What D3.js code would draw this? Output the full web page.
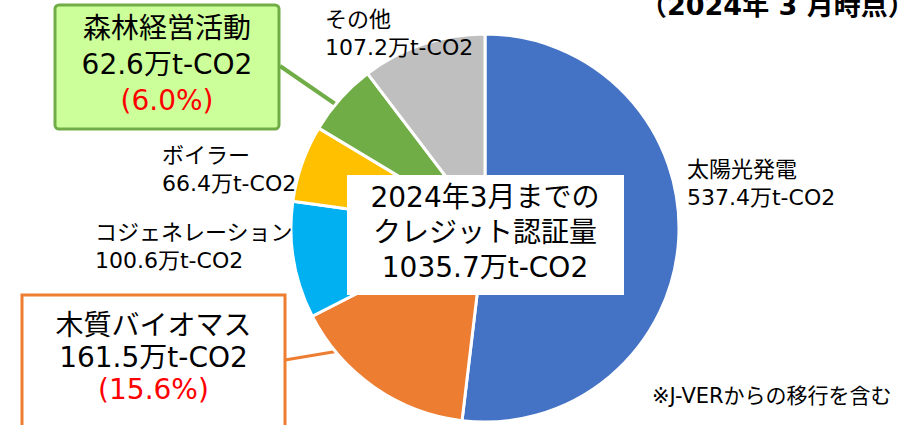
<!DOCTYPE html>
<html lang="ja">
<head>
  <meta charset="UTF-8">
  <title>クレジット認証量</title>
  <script src="https://cdn.jsdelivr.net/npm/d3@7.8.5/dist/d3.min.js"></script>
  <style>
    body { margin: 0; background: #fff; }
    svg { display: block; font-family: "DejaVu Sans", "Noto Sans CJK JP", sans-serif; }
  </style>
</head>
<body>
  <div id="chart"></div>
  <script>
    const width = 914
    const height = 425

    // 2024年3月までのクレジット認証量（万t-CO2）
    const categories = ['太陽光発電', '木質バイオマス', 'コジェネレーション', 'ボイラー', '森林経営活動', 'その他']
    const values = [537.4, 161.5, 100.6, 66.4, 62.6, 107.2]
    const colors = ['#4472C4', '#ED7D31', '#00B0F0', '#FFC000', '#70AD47', '#BFBFBF']
    const total = 1035.7

    const cx = 485, cy = 228, radius = 194

    const svg = d3.select('#chart').append('svg')
      .attr('width', width)
      .attr('height', height)

    const pie = d3.pie().sort(null).value(d => d.value)
    const arcs = pie(categories.map((c, i) => ({ name: c, value: values[i], color: colors[i] })))
    const arc = d3.arc().innerRadius(0).outerRadius(radius)
    const inner = d3.arc().innerRadius(radius * 0.7).outerRadius(radius * 0.7)

    const g = svg.append('g').attr('transform', `translate(${cx},${cy})`)

    // 引き出し線（パイの下に描く）
    const leaders = [
      { idx: 4, x: 280 - cx, y: 66 - cy, color: '#70AD47', w: 4 },
      { idx: 1, x: 285 - cx, y: 360 - cy, color: '#ED7D31', w: 3 }
    ]
    g.selectAll('line.leader').data(leaders)
      .enter().append('line')
      .attr('class', 'leader')
      .attr('x1', d => d.x)
      .attr('y1', d => d.y)
      .attr('x2', d => inner.centroid(arcs[d.idx])[0])
      .attr('y2', d => inner.centroid(arcs[d.idx])[1])
      .attr('stroke', d => d.color)
      .attr('stroke-width', d => d.w)

    g.selectAll('path').data(arcs)
      .enter().append('path')
      .attr('d', arc)
      .attr('fill', d => d.data.color)
      .attr('stroke', '#fff')
      .attr('stroke-width', 3)

    // 中央のボックス
    svg.append('rect')
      .attr('x', 347).attr('y', 175)
      .attr('width', 277).attr('height', 120)
      .attr('fill', '#fff')
    const centerLines = ['2024年3月までの', 'クレジット認証量', `${total}万t-CO2`]
    svg.selectAll('text.center').data(centerLines)
      .enter().append('text')
      .attr('class', 'center')
      .attr('x', cx)
      .attr('y', (d, i) => 207 + i * 35)
      .attr('text-anchor', 'middle')
      .attr('font-size', 28)
      .attr('fill', '#000')
      .text(d => d)

    // 枠付きラベル
    const fmt = v => `${v}万t-CO2`
    const pct = i => `(${(values[i] / total * 100).toFixed(1)}%)`
    const boxes = [
      { idx: 4, x: 55, y: 5, w: 224, h: 124, fill: '#CCFF99', stroke: '#70AD47', rx: 4, base: 38, step: 36 },
      { idx: 1, x: 22, y: 295, w: 263, h: 140, fill: '#fff', stroke: '#ED7D31', rx: 0, base: 335, step: 32 }
    ]
    boxes.forEach(b => {
      svg.append('rect')
        .attr('x', b.x).attr('y', b.y)
        .attr('width', b.w).attr('height', b.h)
        .attr('rx', b.rx)
        .attr('fill', b.fill)
        .attr('stroke', b.stroke)
        .attr('stroke-width', 3)
      const lines = [categories[b.idx], fmt(values[b.idx]), pct(b.idx)]
      svg.selectAll(null).data(lines)
        .enter().append('text')
        .attr('x', b.x + b.w / 2)
        .attr('y', (d, i) => b.base + i * b.step)
        .attr('text-anchor', 'middle')
        .attr('font-size', 28)
        .attr('fill', (d, i) => i === 2 ? '#FF0000' : '#000')
        .text(d => d)
    })

    // その他のラベル
    const plain = [
      { idx: 5, x: 325, y: 27 },
      { idx: 3, x: 162, y: 163 },
      { idx: 2, x: 95, y: 240 },
      { idx: 0, x: 687, y: 177 }
    ]
    plain.forEach(p => {
      const t = svg.append('text')
        .attr('x', p.x).attr('y', p.y)
        .attr('font-size', 22)
        .attr('fill', '#000')
      t.append('tspan').attr('x', p.x).text(categories[p.idx])
      t.append('tspan').attr('x', p.x).attr('dy', 28).text(fmt(values[p.idx]))
    })

    // タイトル（右上）と注記
    svg.append('text')
      .attr('x', 640).attr('y', 15)
      .attr('font-size', 27)
      .attr('font-weight', 'bold')
      .attr('fill', '#000')
      .text('（2024年 3 月時点）')

    svg.append('text')
      .attr('x', 652).attr('y', 403)
      .attr('font-size', 21)
      .attr('fill', '#000')
      .text('※J-VERからの移行を含む')
  </script>
</body>
</html>
